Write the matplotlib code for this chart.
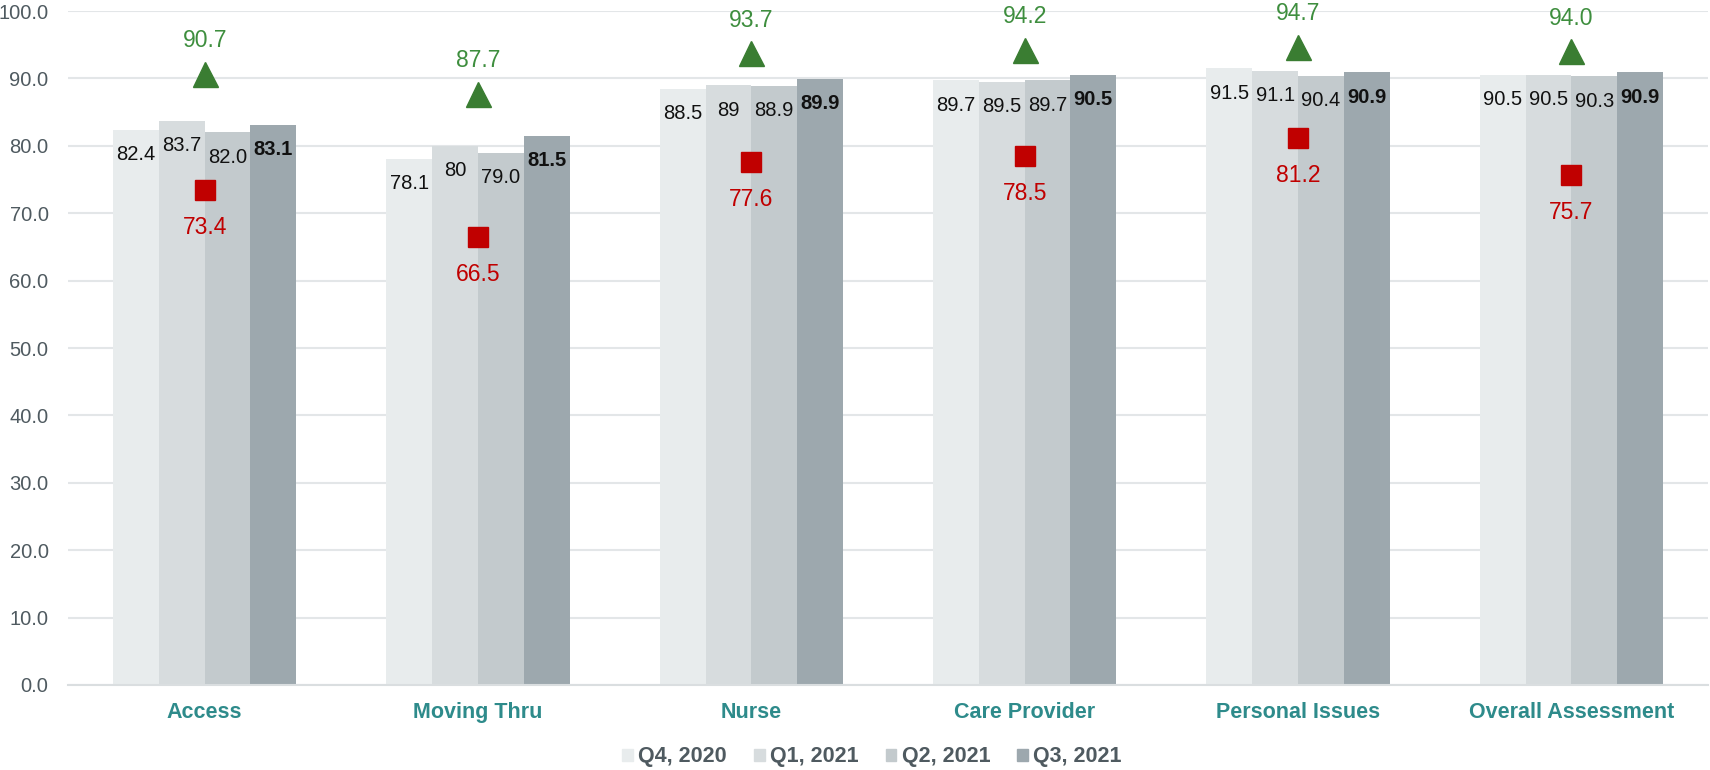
import numpy as np
import matplotlib.pyplot as plt
from matplotlib.patches import Patch

plt.rcParams['font.family'] = ['Liberation Sans', 'DejaVu Sans']

categories = ['Access', 'Moving Thru', 'Nurse', 'Care Provider', 'Personal Issues', 'Overall Assessment']
quarters = ['Q4, 2020', 'Q1, 2021', 'Q2, 2021', 'Q3, 2021']
q4_2020 = [82.4, 78.1, 88.5, 89.7, 91.5, 90.5]
q1_2021 = [83.7, 80.0, 89.0, 89.5, 91.1, 90.5]
q2_2021 = [82.0, 79.0, 88.9, 89.7, 90.4, 90.3]
q3_2021 = [83.1, 81.5, 89.9, 90.5, 90.9, 90.9]
q1_labels = ['83.7', '80', '89', '89.5', '91.1', '90.5']
benchmark_high = [90.7, 87.7, 93.7, 94.2, 94.7, 94.0]
benchmark_low = [73.4, 66.5, 77.6, 78.5, 81.2, 75.7]

bar_colors = ['#E8ECED', '#D7DCDE', '#C3CACD', '#9DA8AE']
series = [q4_2020, q1_2021, q2_2021, q3_2021]

fig = plt.figure(figsize=(17.1, 7.7), dpi=100)
ax = fig.add_axes([0.0398, 0.1104, 0.959, 0.8753])

x = np.arange(len(categories))
w = 0.1675
for i, vals in enumerate(series):
    pos = x + (i - 1.5) * w
    ax.bar(pos, vals, width=w, color=bar_colors[i], zorder=2)
    for j, (p, v) in enumerate(zip(pos, vals)):
        txt = q1_labels[j] if i == 1 else f'{v:.1f}'
        ax.text(p, v - 3.4, txt, ha='center', va='center_baseline', fontsize=14.5,
                color='#111111', fontweight='bold' if i == 3 else 'normal', zorder=4)

ax.plot(x, benchmark_high, linestyle='none', marker='^', markersize=18,
        color='#3A7D32', zorder=5)
ax.plot(x, benchmark_low, linestyle='none', marker='s', markersize=14,
        color='#C00000', zorder=5)
for xi, hi, lo in zip(x, benchmark_high, benchmark_low):
    ax.text(xi, hi + 5.3, f'{hi:.1f}', ha='center', va='center_baseline', fontsize=16.5,
            color='#3E8E3E', zorder=5)
    ax.text(xi, lo - 5.2, f'{lo:.1f}', ha='center', va='center_baseline', fontsize=16.5,
            color='#C00000', zorder=5)

ax.set_xlim(-0.5, len(categories) - 0.5)
ax.set_ylim(0, 100)
ax.set_yticks(np.arange(0, 101, 10))
ax.set_yticklabels([f'{t:.1f}' for t in np.arange(0, 101, 10)], fontsize=14.5, color='#4F5A60')
ax.set_xticks(x)
ax.set_xticklabels(categories, fontsize=15.5, fontweight='bold', color='#2E8B8B')
ax.tick_params(axis='y', length=0, pad=14)
ax.tick_params(axis='x', length=0, pad=12)
ax.grid(axis='y', color='#E3E6E8', linewidth=1.5, zorder=0)
ax.set_axisbelow(True)
for s in ['top', 'right', 'left']:
    ax.spines[s].set_visible(False)
ax.spines['bottom'].set_color('#DADEE0')
ax.spines['bottom'].set_linewidth(1.5)

handles = [Patch(color=c) for c in bar_colors]
leg = fig.legend(handles, quarters, loc='center', bbox_to_anchor=(0.51, 0.017),
                 ncol=4, frameon=False, handlelength=0.5, handleheight=0.5,
                 handletextpad=0.25, columnspacing=1.25,
                 prop={'size': 15.5, 'weight': 'bold'})
for t in leg.get_texts():
    t.set_color('#4F5A60')

fig.savefig('out.png', dpi=100)
